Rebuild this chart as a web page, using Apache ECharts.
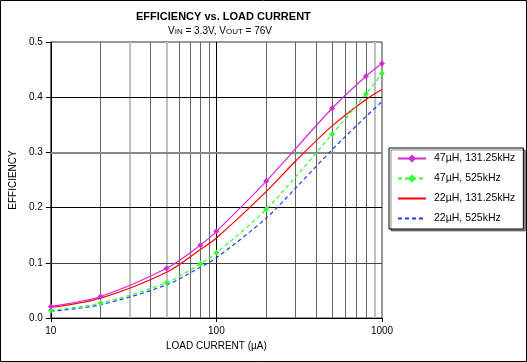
<!DOCTYPE html>
<html><head><meta charset="utf-8">
<script src="https://cdn.jsdelivr.net/npm/echarts@6/dist/echarts.min.js"></script>
<style>html,body{margin:0;padding:0;background:#fff}#c{width:527px;height:362px}</style>
</head><body><div id="c"></div>
<script>
var xMarked = [10, 20, 50, 80, 100, 200, 500, 800, 1000];
var eff47_131 = [0.021, 0.039, 0.090, 0.132, 0.157, 0.248, 0.380, 0.438, 0.461];
var eff47_525 = [0.014, 0.027, 0.064, 0.098, 0.118, 0.197, 0.333, 0.406, 0.443];
var xLine = [10, 20, 50, 80, 100, 200, 300, 500, 800, 1000];
var eff22_131 = [0.019, 0.036, 0.083, 0.124, 0.145, 0.229, 0.284, 0.348, 0.396, 0.414];
var eff22_525 = [0.012, 0.024, 0.060, 0.092, 0.109, 0.181, 0.235, 0.305, 0.365, 0.392];
var seriesNames = ['47\u00b5H, 131.25kHz', '47\u00b5H, 525kHz', '22\u00b5H, 131.25kHz', '22\u00b5H, 525kHz'];
var gridX = [20, 30, 40, 50, 60, 70, 80, 90, 100, 200, 300, 400, 500, 600, 700, 800, 900];
var lightGrid = [30, 50, 900];

function pairs(xs, ys) { return xs.map(function (x, i) { return [x, ys[i]]; }); }

var chart = echarts.init(document.getElementById('c'));
var FONT = 'Liberation Sans, Arial, sans-serif';
var markData = gridX.map(function (v) {
  var col = v === 100 ? '#000' : (lightGrid.indexOf(v) >= 0 ? '#c0c0c0' : '#666');
  var w = lightGrid.indexOf(v) >= 0 ? 2 : 1;
  return { xAxis: v, lineStyle: { color: col, width: w, type: 'solid' } };
});
var yGridVals = [0.1, 0.2, 0.3, 0.4];
var yMark = yGridVals.map(function (v) {
  var col = v === 0.3 ? '#888' : (v === 0.1 ? '#444' : '#000');
  return { yAxis: v, lineStyle: { color: col, width: v === 0.3 ? 2 : 1, type: 'solid' } };
});

chart.setOption({
  animation: false,
  textStyle: { fontFamily: FONT },
  graphic: [
    { type: 'rect', shape: { x: 0.5, y: 0.5, width: 526, height: 361 }, style: { fill: null, stroke: '#000', lineWidth: 1 }, silent: true },
    { type: 'text', left: 136, top: 11, style: { text: 'EFFICIENCY vs. LOAD CURRENT', font: 'bold 11px ' + FONT, fill: '#000' } },
    { type: 'text', left: 168, top: 26, style: {
        text: '{n|V}{s|IN}{n| = 3.3V, V}{s|OUT}{n| = 76V}',
        rich: { n: { fontSize: 10, fontFamily: FONT, fill: '#000', verticalAlign: 'bottom' },
                s: { fontSize: 8, fontFamily: FONT, fill: '#000', verticalAlign: 'bottom', padding: [3, 0, 0, 0] } }
      } }
  ],
  grid: { left: 48, right: 145, top: 42, bottom: 44, show: true, borderColor: '#333', borderWidth: 1 },
  legend: {
    orient: 'vertical', left: 389, top: 148, padding: [5, 8, 5, 8], itemGap: 9,
    itemWidth: 28, itemHeight: 10,
    backgroundColor: '#fff', borderColor: '#000', borderWidth: 1,
    shadowColor: 'rgba(0,0,0,0.45)', shadowOffsetX: 2, shadowOffsetY: 2, shadowBlur: 0,
    textStyle: { fontSize: 10.5, fontFamily: FONT, color: '#000', padding: [0, 0, 0, 3] },
    data: [
      { name: seriesNames[0] },
      { name: seriesNames[1] },
      { name: seriesNames[2], itemStyle: { opacity: 0 } },
      { name: seriesNames[3], itemStyle: { opacity: 0 } }
    ]
  },
  xAxis: {
    type: 'log', logBase: 10, min: 10, max: 1000,
    name: 'LOAD CURRENT (\u00b5A)', nameLocation: 'middle', nameGap: 22,
    nameTextStyle: { fontSize: 10, color: '#000' },
    axisLine: { lineStyle: { color: '#000' } },
    axisTick: { show: true, length: 4, lineStyle: { color: '#000' } },
    axisLabel: { fontSize: 10, color: '#000', margin: 8, formatter: function (v) { return String(Math.round(v)); } },
    splitLine: { show: false }, minorTick: { show: false }
  },
  yAxis: {
    type: 'value', min: 0, max: 0.5, interval: 0.1,
    name: 'EFFICIENCY', nameLocation: 'middle', nameGap: 29,
    nameTextStyle: { fontSize: 10, color: '#000' },
    axisLine: { show: true, lineStyle: { color: '#000' } },
    axisTick: { show: true, length: 5, lineStyle: { color: '#000' } },
    axisLabel: { fontSize: 10, color: '#000', margin: 8, formatter: function (v) { return v.toFixed(1); } },
    splitLine: { show: false }
  },
  series: [
    { name: seriesNames[0], type: 'line', smooth: 0.3, data: pairs(xMarked, eff47_131), z: 5,
      symbol: 'diamond', symbolSize: 6, showSymbol: true,
      lineStyle: { color: '#d22ad6', width: 1.2 }, itemStyle: { color: '#d22ad6' },
      markLine: { silent: true, symbol: 'none', label: { show: false }, data: markData.concat(yMark), z: 1 } },
    { name: seriesNames[1], type: 'line', smooth: 0.3, data: pairs(xMarked, eff47_525), z: 4,
      symbol: 'diamond', symbolSize: 6,
      lineStyle: { color: '#33ff33', width: 1.2, type: [4, 3] }, itemStyle: { color: '#33ff33' } },
    { name: seriesNames[2], type: 'line', smooth: 0.3, data: pairs(xLine, eff22_131), z: 3,
      showSymbol: false,
      lineStyle: { color: '#ff0000', width: 1.2 }, itemStyle: { color: '#ff0000' } },
    { name: seriesNames[3], type: 'line', smooth: 0.3, data: pairs(xLine, eff22_525), z: 3,
      showSymbol: false,
      lineStyle: { color: '#1a3cff', width: 1.2, type: [4, 3] }, itemStyle: { color: '#1a3cff' } }
  ]
});
</script></body></html>
